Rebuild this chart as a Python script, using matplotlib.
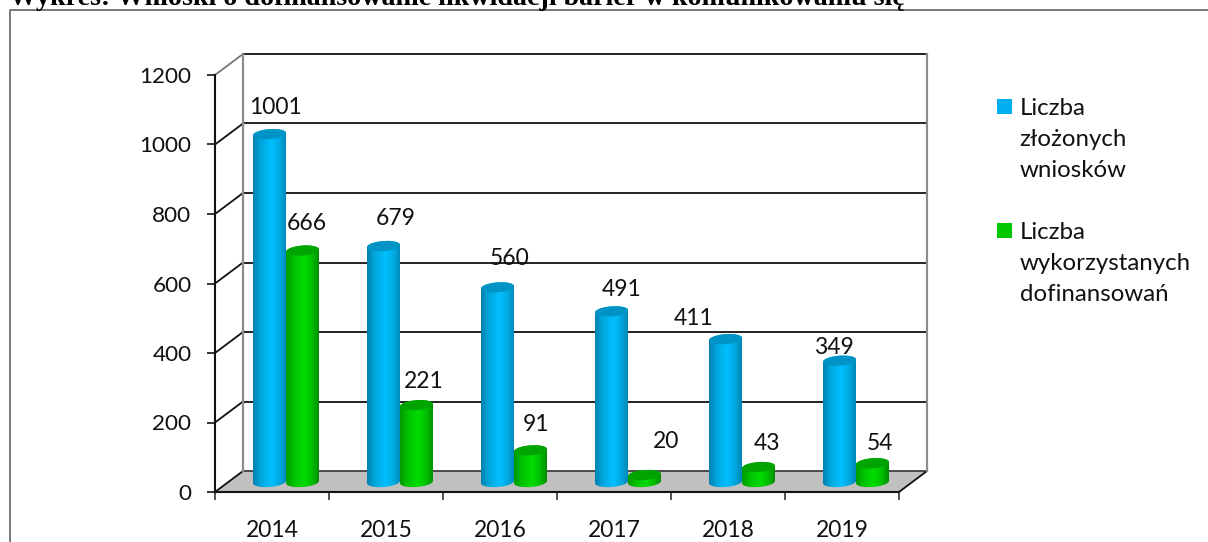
import numpy as np
import matplotlib
matplotlib.use("Agg")
import matplotlib.pyplot as plt
from matplotlib.colors import LinearSegmentedColormap
from matplotlib.lines import Line2D
from matplotlib.patches import PathPatch, Polygon, Rectangle
from matplotlib.path import Path
from matplotlib.legend_handler import HandlerPatch

years = ["2014", "2015", "2016", "2017", "2018", "2019"]
zlozone = [1001, 679, 560, 491, 411, 349]
wykorzystane = [666, 221, 91, 20, 43, 54]
series_names = ["Liczba\nzłożonych\nwniosków", "Liczba\nwykorzystanych\ndofinansowań"]
y_ticks = [0, 200, 400, 600, 800, 1000, 1200]
title = "Wykres: Wnioski o dofinansowanie likwidacji barier w komunikowaniu się"

# hand-placed data label offsets in pixels from the cylinder top centre
label_off_blue = [(6, 26.5), (12, 28), (12, 29), (10, 22), (-32, 21), (-6, 13)]
label_off_green = [(4, 27), (7, 24), (5, 26), (22, 34), (8, 24), (8, 20)]

W, H = 1208, 542
plt.rcParams["font.family"] = ["Lato", "DejaVu Sans"]
fig = plt.figure(figsize=(W / 100, H / 100), dpi=100, facecolor="white")
L, R, T, B = 215, 899, 75, 492
ax = fig.add_axes([L / W, 1 - B / H, (R - L) / W, (B - T) / H])
ax.set_facecolor("none")

px_x = 6 / (R - L)
px_y = 1200 / (B - T)
dx, dy = 28 * px_x, 21 * px_y

# frame around the embedded chart, running off the page
frame_col = "#6e6e6e"
fig.add_artist(Line2D([9.5 / W, 9.5 / W, 1], [0, 1 - 9.5 / H, 1 - 9.5 / H],
                      color=frame_col, lw=1.3, transform=fig.transFigure))
fig.text(9 / W, 1 - 5 / H, title, family="Liberation Serif", weight="bold",
         fontsize=20.2, ha="left", va="baseline", color="black")

# floor
ax.add_patch(Polygon([(0, 0), (6, 0), (6 + dx, dy), (dx, dy)], closed=True,
                     fc="#c0c0c0", ec="none", clip_on=False, zorder=1))
# walls and gridlines
for v in y_ticks:
    col = "#404040" if v == 0 else "#111111"
    ax.plot([dx, 6 + dx], [v + dy, v + dy], color=col, lw=1.3, clip_on=False, zorder=2)
    if v > 0:
        side = "#777777" if v == 1200 else "#111111"
        ax.plot([0, dx], [v, v + dy], color=side, lw=1.3, clip_on=False, zorder=2)
ax.plot([0, dx], [0, dy], color="#111111", lw=1.3, clip_on=False, zorder=2)
ax.plot([6, 6 + dx], [0, dy], color="#111111", lw=1.3, clip_on=False, zorder=2)
for xv in (dx, 6 + dx):
    ax.plot([xv, xv], [dy, 1200 + dy], color="#8c8c8c", lw=1.6, clip_on=False, zorder=2)

blue_cmap = LinearSegmentedColormap.from_list(
    "b", [(0, "#0080ae"), (0.22, "#00a6dc"), (0.55, "#00bfff"), (0.8, "#00a8de"), (1, "#0085b4")])
green_cmap = LinearSegmentedColormap.from_list(
    "g", [(0, "#009a00"), (0.25, "#00c400"), (0.55, "#00dc00"), (0.8, "#00bc00"), (1, "#008c00")])
grad = np.linspace(0, 1, 128).reshape(1, -1)

BAR_W = 33 * px_x
BASE = 10 * px_y
A = BAR_W / 2
E = 5 * px_y
TILT = 1.2 * px_y   # rise of the ellipse across half its width


def ellipse_xy(cx, cy, t):
    return cx + A * np.cos(t), cy + E * np.sin(t) + TILT * np.cos(t)


def cylinder(cx, value, cmap, top_color, z):
    top = BASE + value
    t_low = np.linspace(np.pi, 2 * np.pi, 40)
    t_up = np.linspace(0, np.pi, 40)
    xb, yb = ellipse_xy(cx, BASE, t_low)
    xt, yt = ellipse_xy(cx, top, t_up)
    verts = np.column_stack([np.r_[xb, xt, xb[0]], np.r_[yb, yt, yb[0]]])
    codes = [Path.MOVETO] + [Path.LINETO] * (len(verts) - 2) + [Path.CLOSEPOLY]
    body = PathPatch(Path(verts, codes), fc="none", ec="none", transform=ax.transData)
    ax.add_patch(body)
    im = ax.imshow(grad, extent=[cx - A, cx + A, 0, top + 2 * E], aspect="auto",
                   cmap=cmap, zorder=z, interpolation="bilinear")
    im.set_clip_path(body)
    t = np.linspace(0, 2 * np.pi, 80)
    xe, ye = ellipse_xy(cx, top, t)
    ax.fill(xe, ye, color=top_color, lw=0, zorder=z + 0.1)


for i in range(len(years)):
    c = i + 0.5 + 14 * px_x
    cb, cg = c - 16.5 * px_x, c + 16.5 * px_x
    cylinder(cb, zlozone[i], blue_cmap, "#0093c6", 3 + i)
    cylinder(cg, wykorzystane[i], green_cmap, "#00a400", 3.5 + i)
    for cx, val, off in ((cb, zlozone[i], label_off_blue[i]),
                         (cg, wykorzystane[i], label_off_green[i])):
        ax.annotate(str(val), xy=(cx, BASE + val), xytext=(off[0] * 0.72, off[1] * 0.72),
                    textcoords="offset points", ha="center", va="center",
                    fontsize=16.5, color="#111111", zorder=20, annotation_clip=False)

ax.set_xlim(0, 6)
ax.set_ylim(0, 1200)
for s in ("top", "right"):
    ax.spines[s].set_visible(False)
for s in ("left", "bottom"):
    ax.spines[s].set_linewidth(1.5)
    ax.spines[s].set_color("#111111")
    ax.spines[s].set_zorder(15)
ax.set_yticks(y_ticks)
ax.set_xticks(range(7))
ax.set_xticklabels([])
ax.set_xticks(np.arange(6) + 0.5, minor=True)
ax.set_xticklabels(years, minor=True, fontsize=16.4, color="#111111")
ax.tick_params(axis="y", length=6, width=1.1, pad=11, labelsize=16.2, labelcolor="#111111")
ax.tick_params(axis="x", which="major", length=6, width=1.1, color="#222222")
ax.tick_params(axis="x", which="minor", length=0, pad=20)


def square(legend, orig_handle, xdescent, ydescent, width, height, fontsize):
    # square sits beside the first line of its three-line label
    return Rectangle((0, 24.5), 10.8, 10.8)


handles = [Rectangle((0, 0), 1, 1, fc="#00b0f0", ec="none"),
           Rectangle((0, 0), 1, 1, fc="#00c800", ec="none")]
leg = fig.legend(handles, series_names, loc="upper left",
                 bbox_to_anchor=(997 / W, 1 - 98 / H), borderaxespad=0, borderpad=0,
                 frameon=False, fontsize=17.3, handlelength=0.625, handletextpad=0.32,
                 labelspacing=1.67, handler_map={Rectangle: HandlerPatch(patch_func=square)})
for t in leg.get_texts():
    t.set_linespacing(1.6)
    t.set_color("#111111")

fig.savefig("out.png", dpi=100, facecolor="white")
